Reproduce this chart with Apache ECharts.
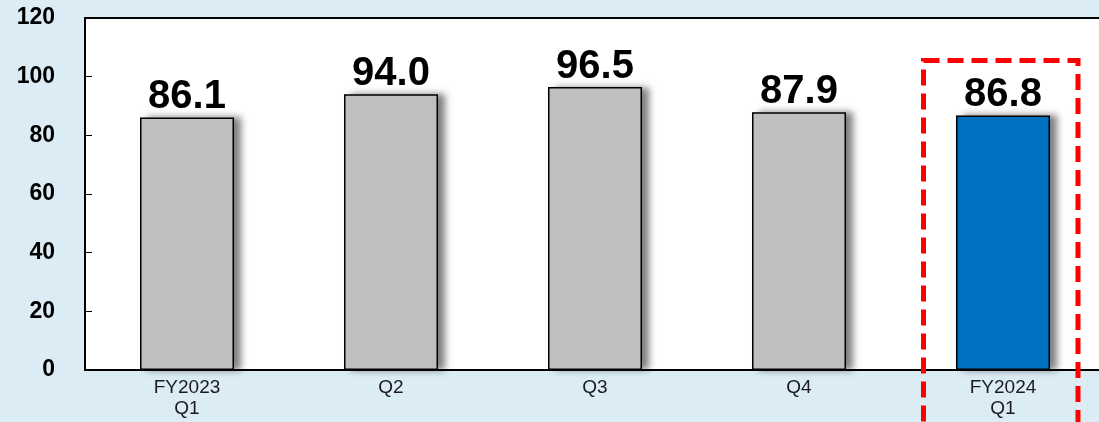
<!DOCTYPE html>
<html>
<head>
<meta charset="utf-8">
<script src="https://cdn.jsdelivr.net/npm/echarts@6/dist/echarts.min.js"></script>
<style>
  html, body { margin: 0; padding: 0; background: #dbecf4; overflow: hidden; }
  #chart { width: 1106px; height: 422px; }
</style>
</head>
<body>
<div id="chart"></div>
<script>
const categories = ['FY2023\nQ1', 'Q2', 'Q3', 'Q4', 'FY2024\nQ1'];
const values = [86.1, 94.0, 96.5, 87.9, 86.8];
const barColors = ['#bfbfbf', '#bfbfbf', '#bfbfbf', '#bfbfbf', '#0070c0'];
const yTicks = { min: 0, max: 120, interval: 20 };
const highlightIndex = 4;

const chart = echarts.init(document.getElementById('chart'));

const option = {
  backgroundColor: '#dbecf4',
  animation: false,
  grid: {
    left: 85,
    top: 18,
    right: 1,
    bottom: 52,
    show: true,
    backgroundColor: '#ffffff',
    borderColor: '#000',
    borderWidth: 2
  },
  xAxis: {
    type: 'category',
    data: categories,
    axisLine: { lineStyle: { color: '#000', width: 2 } },
    axisTick: { show: false },
    axisLabel: {
      color: '#1a1a24',
      fontFamily: 'Liberation Sans, Arial',
      fontSize: 19,
      lineHeight: 21,
      margin: 7
    }
  },
  yAxis: {
    type: 'value',
    min: yTicks.min,
    max: yTicks.max,
    interval: yTicks.interval,
    splitLine: { show: false },
    axisLine: { show: true, lineStyle: { color: '#000', width: 2 } },
    axisTick: { show: true, inside: true, length: 7, lineStyle: { color: '#000', width: 1 } },
    axisLabel: {
      color: '#000',
      fontFamily: 'Liberation Sans, Arial',
      fontWeight: 'bold',
      fontSize: 23,
      margin: 30
    }
  },
  series: [
    {
      // soft shadow drawn behind the bars
      type: 'bar',
      barWidth: 94,
      z: 1,
      silent: true,
      data: values,
      itemStyle: {
        color: '#bfbfbf',
        shadowColor: 'rgba(0,0,0,0.5)',
        shadowBlur: 7,
        shadowOffsetX: 7,
        shadowOffsetY: 0
      }
    },
    {
      type: 'bar',
      barWidth: 94,
      barGap: '-100%',
      z: 2,
      data: values.map((v, i) => ({
        value: v,
        itemStyle: { color: barColors[i] }
      })),
      itemStyle: {
        borderColor: '#000',
        borderWidth: 1.5
      },
      label: {
        show: true,
        position: 'top',
        distance: 0,
        color: '#000',
        fontFamily: 'Liberation Sans, Arial',
        fontWeight: 'bold',
        fontSize: 40,
        formatter: p => p.value.toFixed(1)
      }
    }
  ]
};

chart.setOption(option);

// red dashed frame around the latest quarter
const center = chart.convertToPixel({ xAxisIndex: 0, yAxisIndex: 0 }, [highlightIndex, 0]);
const topPt = chart.convertToPixel({ xAxisIndex: 0, yAxisIndex: 0 }, [highlightIndex, 105.5]);
chart.setOption({
  graphic: [{
    type: 'rect',
    z: 100,
    shape: { x: center[0] - 79.5, y: topPt[1], width: 154.5, height: 422 },
    style: {
      fill: 'none',
      stroke: '#ff0000',
      lineWidth: 5,
      lineDash: [16, 8]
    }
  }]
});
</script>
</body>
</html>
